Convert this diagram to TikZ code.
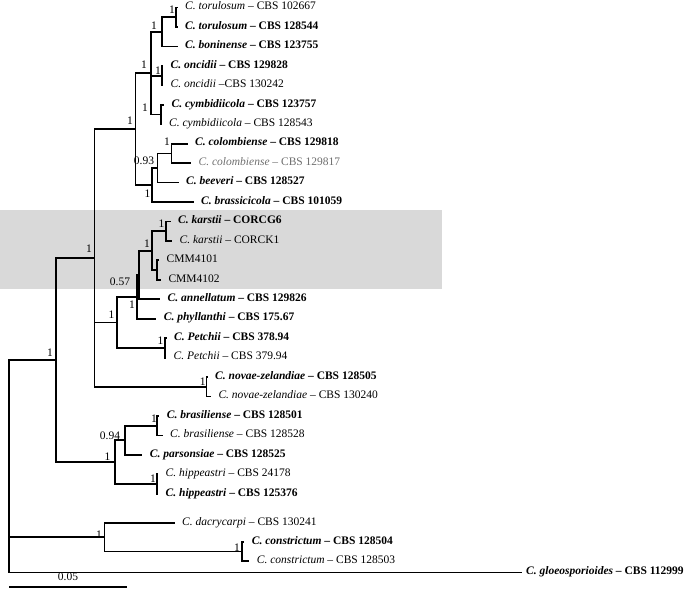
\documentclass[tikz,border=0pt]{standalone}
\usepackage{fontspec}
\setmainfont{Liberation Serif}
\usepackage{xcolor}
\definecolor{boxgray}{RGB}{217, 217, 217}
\definecolor{dimtext}{RGB}{110, 110, 110}
\usepackage{tikz}
\usetikzlibrary{positioning}

\begin{document}
\begin{tikzpicture}[x=1pt, y=-1pt]

  \tikzstyle{leaf} = [
    anchor=west, inner xsep=7.5pt, inner ysep=0pt,
    text height=1.2ex, text depth=0.2ex,
    font=\fontsize{11.5}{13}\selectfont
  ]
  \tikzstyle{supp} = [
    inner sep=0pt, font=\fontsize{11.5}{13}\selectfont
  ]
  \tikzstyle{branch} = [line width=1.8pt, black]

  \useasboundingbox (0,0) rectangle (685,589);

  % highlighted group
  \fill[boxgray] (0,210) rectangle (442,289);

  \begin{scope}[yshift=-2.5pt]

  % internal nodes
  \coordinate (root) at (9,460);
  \coordinate (ingr) at (55.7,357.6);
  \coordinate (cA)   at (94.5,255.5);
  \coordinate (cS)   at (135.5,126.6);
  \coordinate (cR)   at (151,70.7);
  \coordinate (cQ)   at (162,29.3);
  \coordinate (torp) at (176,14.7);
  \coordinate (oncp) at (162,73.1);
  \coordinate (cymp) at (161,112);
  \coordinate (cU)   at (151.7,182.5);
  \coordinate (cV)   at (157.5,165.5);
  \coordinate (colp) at (171.5,150.9);
  \coordinate (cC)   at (116.7,319.9);
  \coordinate (cD)   at (136.7,294.3);
  \coordinate (cE)   at (139,272.4);
  \coordinate (cF)   at (151.7,248.1);
  \coordinate (karp) at (166,228.7);
  \coordinate (cmmp) at (157,267.6);
  \coordinate (petp) at (165,345.4);
  \coordinate (novp) at (206.5,384.3);
  \coordinate (cH)   at (115,459.6);
  \coordinate (cG)   at (125,437.8);
  \coordinate (brap) at (156.7,423.2);
  \coordinate (hipp) at (157,481.5);
  \coordinate (cJ)   at (104.5,534.75);
  \coordinate (conp) at (241.7,549);

  % taxa
  \node[leaf] (l0)  at (177.5,5)      {\textit{C. torulosum} – CBS 102667};
  \node[leaf] (l1)  at (177.5,24.45)  {\textbf{\textit{C. torulosum} – CBS 128544}};
  \node[leaf] (l2)  at (177.5,43.9)   {\textbf{\textit{C. boninense} – CBS 123755}};
  \node[leaf] (l3)  at (163,63.35)    {\textbf{\textit{C. oncidii} – CBS 129828}};
  \node[leaf] (l4)  at (163,82.8)     {\textit{C. oncidii} –CBS 130242};
  \node[leaf] (l5)  at (164,102.25)   {\textbf{\textit{C. cymbidiicola} – CBS 123757}};
  \node[leaf] (l6)  at (161.5,121.7)  {\textit{C. cymbidiicola} – CBS 128543};
  \node[leaf] (l7)  at (187.5,141.15) {\textbf{\textit{C. colombiense} – CBS 129818}};
  \node[leaf, text=dimtext] (l8) at (191,160.6) {\textit{C. colombiense} – CBS 129817};
  \node[leaf] (l9)  at (178.5,180.05) {\textbf{\textit{C. beeveri} – CBS 128527}};
  \node[leaf] (l10) at (193.5,199.5)  {\textbf{\textit{C. brassicicola} – CBS 101059}};
  \node[leaf] (l11) at (170.5,218.95) {\textbf{\textit{C. karstii} – CORCG6}};
  \node[leaf] (l12) at (172,238.4)    {\textit{C. karstii} – CORCK1};
  \node[leaf] (l13) at (159,257.85)   {CMM4101};
  \node[leaf] (l14) at (160.8,277.3)  {CMM4102};
  \node[leaf] (l15) at (160,296.75)   {\textbf{\textit{C. annellatum} – CBS 129826}};
  \node[leaf] (l16) at (156.2,316.2)  {\textbf{\textit{C. phyllanthi} – CBS 175.67}};
  \node[leaf] (l17) at (166.5,335.65) {\textbf{\textit{C. Petchii} – CBS 378.94}};
  \node[leaf] (l18) at (166,355.1)    {\textit{C. Petchii} – CBS 379.94};
  \node[leaf] (l19) at (207.5,374.55) {\textbf{\textit{C. novae-zelandiae} – CBS 128505}};
  \node[leaf] (l20) at (210.8,394)    {\textit{C. novae-zelandiae} – CBS 130240};
  \node[leaf] (l21) at (159.2,413.45) {\textbf{\textit{C. brasiliense} – CBS 128501}};
  \node[leaf] (l22) at (162.5,432.9)  {\textit{C. brasiliense} – CBS 128528};
  \node[leaf] (l23) at (142.2,452.35) {\textbf{\textit{C. parsonsiae} – CBS 128525}};
  \node[leaf] (l24) at (158,471.8)    {\textit{C. hippeastri} – CBS 24178};
  \node[leaf] (l25) at (158,491.25)   {\textbf{\textit{C. hippeastri} – CBS 125376}};
  \node[leaf] (l26) at (174.5,520.5)  {\textit{C. dacrycarpi} – CBS 130241};
  \node[leaf] (l27) at (244.2,539.5)  {\textbf{\textit{C. constrictum} – CBS 128504}};
  \node[leaf] (l28) at (249.2,558.5)  {\textit{C. constrictum} – CBS 128503};
  \node[leaf, inner xsep=4pt] (l29) at (522,570) {\textbf{\textit{C. gloeosporioides} – CBS 112999}};

  % branches
  \draw[branch] (root) |- (ingr);
  \draw[branch] (root) |- (cJ);
  \draw[branch] (root) |- (l29.west);
  \draw[branch] (ingr) |- (cA);
  \draw[branch] (ingr) |- (cH);
  \draw[branch] (cA) |- (cS);
  \draw[branch] (cA) |- (cC);
  \draw[branch] (cA) |- (novp);
  \draw[branch] (cS) |- (cR);
  \draw[branch] (cS) |- (cU);
  \draw[branch] (cR) |- (cQ);
  \draw[branch] (cR) |- (oncp);
  \draw[branch] (cR) |- (cymp);
  \draw[branch] (cQ) |- (torp);
  \draw[branch] (cQ) |- (l2.west);
  \draw[branch] (torp) |- (l0.west);
  \draw[branch] (torp) |- (l1.west);
  \draw[branch] (oncp) |- (l3.west);
  \draw[branch] (oncp) |- (l4.west);
  \draw[branch] (cymp) |- (l5.west);
  \draw[branch] (cymp) |- (l6.west);
  \draw[branch] (cU) |- (cV);
  \draw[branch] (cU) |- (l10.west);
  \draw[branch] (cV) |- (colp);
  \draw[branch] (cV) |- (l9.west);
  \draw[branch] (colp) |- (l7.west);
  \draw[branch] (colp) |- (l8.west);
  \draw[branch] (cC) |- (cD);
  \draw[branch] (cC) |- (petp);
  \draw[branch] (cD) |- (cE);
  \draw[branch] (cD) |- (l16.west);
  \draw[branch] (cE) |- (cF);
  \draw[branch] (cE) |- (l15.west);
  \draw[branch] (cF) |- (karp);
  \draw[branch] (cF) |- (cmmp);
  \draw[branch] (karp) |- (l11.west);
  \draw[branch] (karp) |- (l12.west);
  \draw[branch] (cmmp) |- (l13.west);
  \draw[branch] (cmmp) |- (l14.west);
  \draw[branch] (petp) |- (l17.west);
  \draw[branch] (petp) |- (l18.west);
  \draw[branch] (novp) |- (l19.west);
  \draw[branch] (novp) |- (l20.west);
  \draw[branch] (cH) |- (cG);
  \draw[branch] (cH) |- (hipp);
  \draw[branch] (cG) |- (brap);
  \draw[branch] (cG) |- (l23.west);
  \draw[branch] (brap) |- (l21.west);
  \draw[branch] (brap) |- (l22.west);
  \draw[branch] (hipp) |- (l24.west);
  \draw[branch] (hipp) |- (l25.west);
  \draw[branch] (cJ) |- (l26.west);
  \draw[branch] (cJ) |- (conp);
  \draw[branch] (conp) |- (l27.west);
  \draw[branch] (conp) |- (l28.west);

  % support values
  \node[supp] (s-tor) at (172,7)       {1};
  \node[supp] (s-q)   at (154,23)      {1};
  \node[supp] (s-r)   at (144,62)      {1};
  \node[supp] (s-onc) at (158,68)      {1};
  \node[supp] (s-cym) at (145,105)     {1};
  \node[supp] (s-s)   at (130,118)     {1};
  \node[supp] (s-col) at (167,139)     {1};
  \node[supp] (s-v)   at (144,158.5)   {0.93};
  \node[supp] (s-u)   at (147.5,191.5) {1};
  \node[supp] (s-kar) at (161.5,221.5) {1};
  \node[supp] (s-f)   at (147,241.5)   {1};
  \node[supp] (s-a)   at (89,246)      {1};
  \node[supp] (s-e)   at (120,279)     {0.57};
  \node[supp] (s-d)   at (132,302.5)   {1};
  \node[supp] (s-c)   at (111.5,312.5) {1};
  \node[supp] (s-pet) at (160.5,338.3) {1};
  \node[supp] (s-in)  at (50,350)      {1};
  \node[supp] (s-nov) at (202.7,379)   {1};
  \node[supp] (s-bra) at (154,416)     {1};
  \node[supp] (s-g)   at (110,433)     {0.94};
  \node[supp] (s-h)   at (107.5,454)   {1};
  \node[supp] (s-hip) at (153,476)     {1};
  \node[supp] (s-j)   at (99,531.7)    {1};
  \node[supp] (s-con) at (237,545)     {1};

  \end{scope}

  % scale bar
  \coordinate (bar-l) at (9,587);
  \coordinate (bar-r) at (127,587);
  \draw[branch] (bar-l) -- (bar-r);
  \node[supp] (bar-t) at (68,577) {0.05};

\end{tikzpicture}
\end{document}
